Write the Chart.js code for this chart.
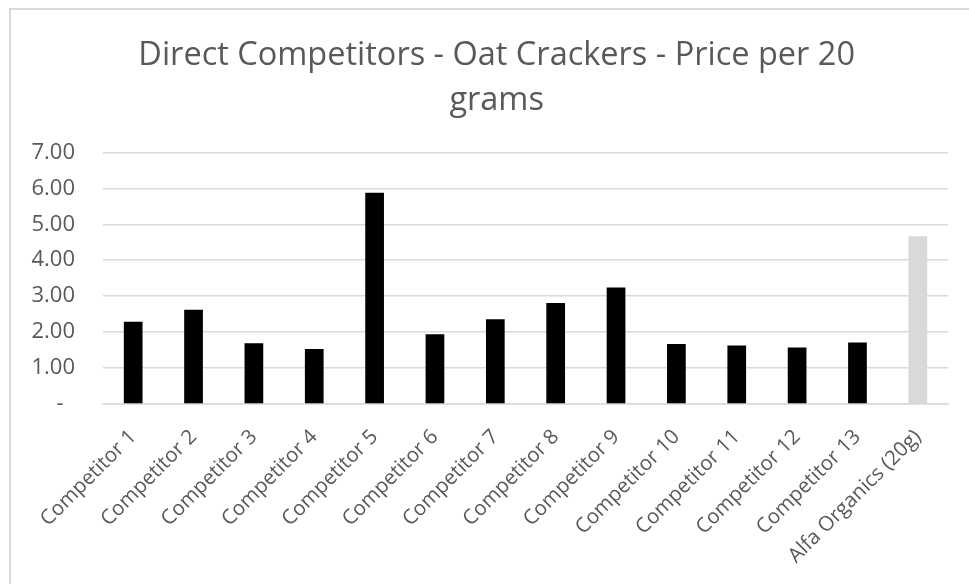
<!DOCTYPE html>
<html>
<head>
<meta charset="utf-8">
<script src="https://cdn.jsdelivr.net/npm/chart.js@4/dist/chart.umd.min.js"></script>
<style>
  html, body { margin: 0; padding: 0; background: #fff; }
  #wrap { position: relative; width: 969px; height: 584px; overflow: hidden; }
  #frame { position: absolute; left: 9px; top: 8px; width: 1000px; height: 600px;
           border-left: 2px solid #d9d9d9; border-top: 2px solid #d9d9d9; }
  canvas { position: absolute; left: 0; top: 0; }
</style>
</head>
<body>
<div id="wrap">
  <div id="frame"></div>
  <canvas id="barChart" width="969" height="584"></canvas>
</div>
<script>
// Datos del gráfico (precio por 20 g)
const competidores = [
  'Competitor 1', 'Competitor 2', 'Competitor 3', 'Competitor 4', 'Competitor 5',
  'Competitor 6', 'Competitor 7', 'Competitor 8', 'Competitor 9', 'Competitor 10',
  'Competitor 11', 'Competitor 12', 'Competitor 13', 'Alfa Organics (20g)'
];
const precioPor20g = [2.29, 2.62, 1.69, 1.53, 5.88, 1.94, 2.36, 2.81, 3.24, 1.67, 1.63, 1.57, 1.71, 4.67];
const tituloLineas = ['Direct Competitors - Oat Crackers - Price per 20', 'grams'];

const fuente = '"Open Sans", "Noto Sans", sans-serif';
const gris = '#595959';
const lineaGris = '#d9d9d9';

// nuestro producto en gris claro, competidores en negro
const coloresBarras = competidores.map(c => c.startsWith('Alfa') ? '#d9d9d9' : '#000000');

// unos espacios delante empujan el título un poco a la derecha, como en el original
const tituloCentrado = tituloLineas.map(t => '   ' + t);

const ctx = document.getElementById('barChart').getContext('2d');
const barChart = new Chart(ctx, {
  type: 'bar',
  data: {
    labels: competidores,
    datasets: [{
      label: 'Price per 20 grams',
      data: precioPor20g,
      backgroundColor: coloresBarras,
      borderWidth: 0,
      barPercentage: 0.31,
      categoryPercentage: 1
    }]
  },
  options: {
    responsive: false,
    animation: false,
    layout: {
      padding: { top: 34, left: 20, right: 21, bottom: 10 }
    },
    plugins: {
      legend: { display: false },
      tooltip: { enabled: false },
      title: {
        display: true,
        text: tituloCentrado,
        color: gris,
        font: { family: fuente, size: 32.5, weight: 'normal', lineHeight: 1.36 },
        padding: { top: 0, bottom: 30 }
      }
    },
    scales: {
      x: {
        grid: { display: false },
        border: { display: true, color: lineaGris, width: 1.5 },
        ticks: {
          color: gris,
          font: { family: fuente, size: 20.5 },
          minRotation: 45,
          maxRotation: 45,
          padding: 13,
          autoSkip: false
        },
        afterFit: (scale) => { scale.height = 170; }
      },
      y: {
        min: 0,
        max: 7,
        grid: { color: lineaGris, lineWidth: 1.5, drawTicks: false },
        border: { display: false },
        ticks: {
          stepSize: 1,
          color: gris,
          font: { family: fuente, size: 22 },
          padding: 28,
          callback: (v) => v === 0 ? '-  ' : v.toFixed(2)
        },
        afterFit: (scale) => { scale.width = 83; }
      }
    }
  }
});
</script>
</body>
</html>
